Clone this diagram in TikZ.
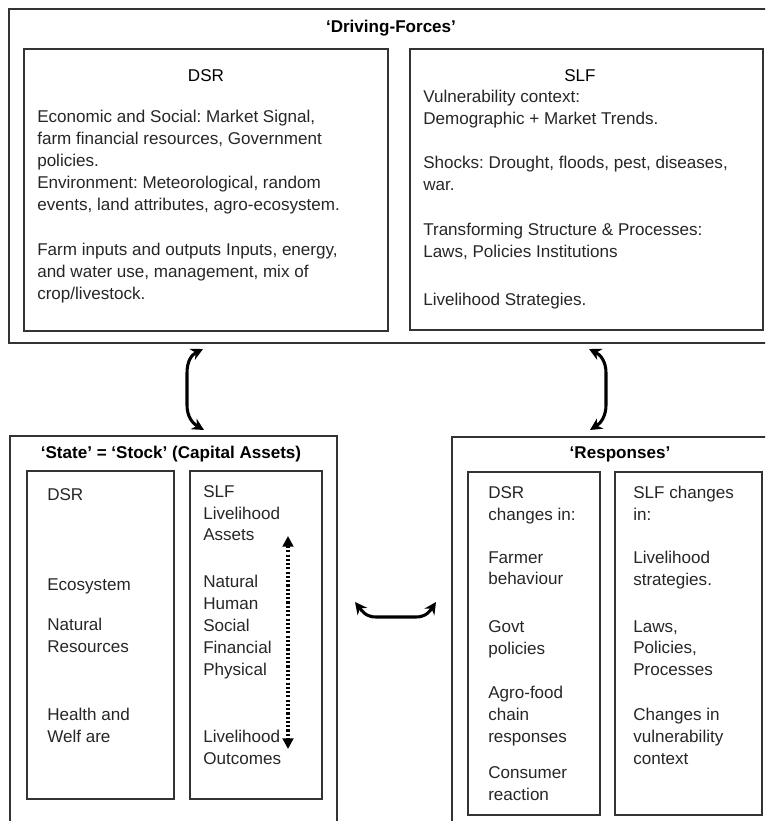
\documentclass[tikz,border=0pt]{standalone}
\usepackage{fontspec}
\setmainfont{Liberation Sans}
\frenchspacing
\usetikzlibrary{arrows.meta,fit}

\begin{document}
\begin{tikzpicture}[x=0.75pt,y=-0.75pt,font=\fontsize{12.8}{16.4}\selectfont,
                    bx/.style={draw=black!80,line width=1.2pt,inner sep=0pt},
                    txt/.style={anchor=north west,align=left,inner sep=0pt,yshift=9pt,
                                text=black!85,execute at begin node=\strut},
                    ttl/.style={anchor=base,inner sep=0pt,font=\fontsize{12.8}{16.4}\selectfont\bfseries},
                    dbl/.style={line width=2.3pt,{Stealth[length=9pt,width=9pt]}-{Stealth[length=9pt,width=9pt]}}]
  \useasboundingbox (0,0) rectangle (765,821);
  \clip (0,0) rectangle (765,821);
  % driving forces
  \node[bx,fit={(9,9) (790,343)}] (drv) {};
  \node[ttl] (drvT) at (391,32) {`Driving-Forces'};
  \node[bx,fit={(24,49) (388,331)}] (dsrT) {};
  \node[ttl,font=\fontsize{12.8}{16.4}\selectfont] (dsrTh) at (206,81) {DSR};
  \node[txt] (dsrT1) at (37,122) {Economic and Social: Market Signal,\\ farm financial resources, Government\\ policies.\\ Environment: Meteorological, random\\ events, land attributes, agro-ecosystem.};
  \node[txt] (dsrT2) at (37,255) {Farm inputs and outputs Inputs, energy,\\ and water use, management, mix of\\ crop/livestock.};
  \node[bx,fit={(410,49) (763,330)}] (slfT) {};
  \node[ttl,font=\fontsize{12.8}{16.4}\selectfont] (slfTh) at (580,81) {SLF};
  \node[txt] (slfT1) at (423,102) {Vulnerability context:\\ Demographic + Market Trends.};
  \node[txt] (slfT2) at (423,168) {Shocks: Drought, floods, pest, diseases,\\ war.};
  \node[txt] (slfT3) at (423,235) {Transforming Structure \& Processes:\\ Laws, Policies Institutions};
  \node[txt] (slfT4) at (423,302) {Livelihood Strategies.};
  % state = stock
  \node[bx,fit={(10,436) (337,840)}] (stk) {};
  \node[ttl] (stkT) at (171,458) {`State' = `Stock' (Capital Assets)};
  \node[bx,fit={(27,471) (174,799)}] (dsrS) {};
  \node[txt] (dsrS1) at (47,497) {DSR};
  \node[txt] (dsrS2) at (47,587) {Ecosystem};
  \node[txt] (dsrS3) at (47,630) {Natural\\ Resources};
  \node[txt] (dsrS4) at (47,720) {Health and\\ Welf are};
  \node[bx,fit={(190,471) (322,799)}] (slfS) {};
  \node[txt] (slfS1) at (203,497) {SLF\\ Livelihood\\ Assets};
  \node[txt] (slfS2) at (203,587) {Natural\\ Human\\ Social\\ Financial\\ Physical};
  \node[txt] (slfS3) at (203,742) {Livelihood\\ Outcomes};
  \coordinate (lvTop) at (288,536);
  \coordinate (lvBot) at (288,749);
  \draw[line width=2.6pt,dash pattern=on 1.6pt off 1.6pt,
        {Triangle[length=8pt,width=8pt]}-{Triangle[length=8pt,width=8pt]}] (lvTop) -- (lvBot);
  % responses
  \node[bx,fit={(452,437) (790,840)}] (rsp) {};
  \node[ttl] (rspT) at (620,458) {`Responses'};
  \node[bx,fit={(468,472) (600,815)}] (dsrR) {};
  \node[txt] (dsrR1) at (488,498) {DSR\\ changes in:};
  \node[txt] (dsrR2) at (488,563) {Farmer\\ behaviour};
  \node[txt] (dsrR3) at (488,632) {Govt\\ policies};
  \node[txt] (dsrR4) at (488,698) {Agro-food\\ chain\\ responses};
  \node[txt] (dsrR5) at (488,778) {Consumer\\ reaction};
  \node[bx,fit={(615,472) (762,815)}] (slfR) {};
  \node[txt] (slfR1) at (633,498) {SLF changes\\ in:};
  \node[txt] (slfR2) at (633,563) {Livelihood\\ strategies.};
  \node[txt] (slfR3) at (633,632) {Laws,\\ Policies,\\ Processes};
  \node[txt] (slfR4) at (633,720) {Changes in\\ vulnerability\\ context};
  % links between the three blocks
  \coordinate (aL1) at (203,349);
  \coordinate (aL2) at (204,430);
  \coordinate (aR1) at (589,349);
  \coordinate (aR2) at (590,430);
  \coordinate (aM1) at (355,602);
  \coordinate (aM2) at (436,602);
  \draw[dbl] (aL1) .. controls (191,355) and (187,362) .. (187,373) -- (187,405) .. controls (187,416) and (192,423) .. (aL2);
  \draw[dbl] (aR1) .. controls (601,355) and (606,362) .. (606,373) -- (606,405) .. controls (606,416) and (601,423) .. (aR2);
  \draw[dbl] (aM1) .. controls (362,611) and (366,617) .. (376,617) -- (416,617) .. controls (426,617) and (430,611) .. (aM2);
\end{tikzpicture}
\end{document}
